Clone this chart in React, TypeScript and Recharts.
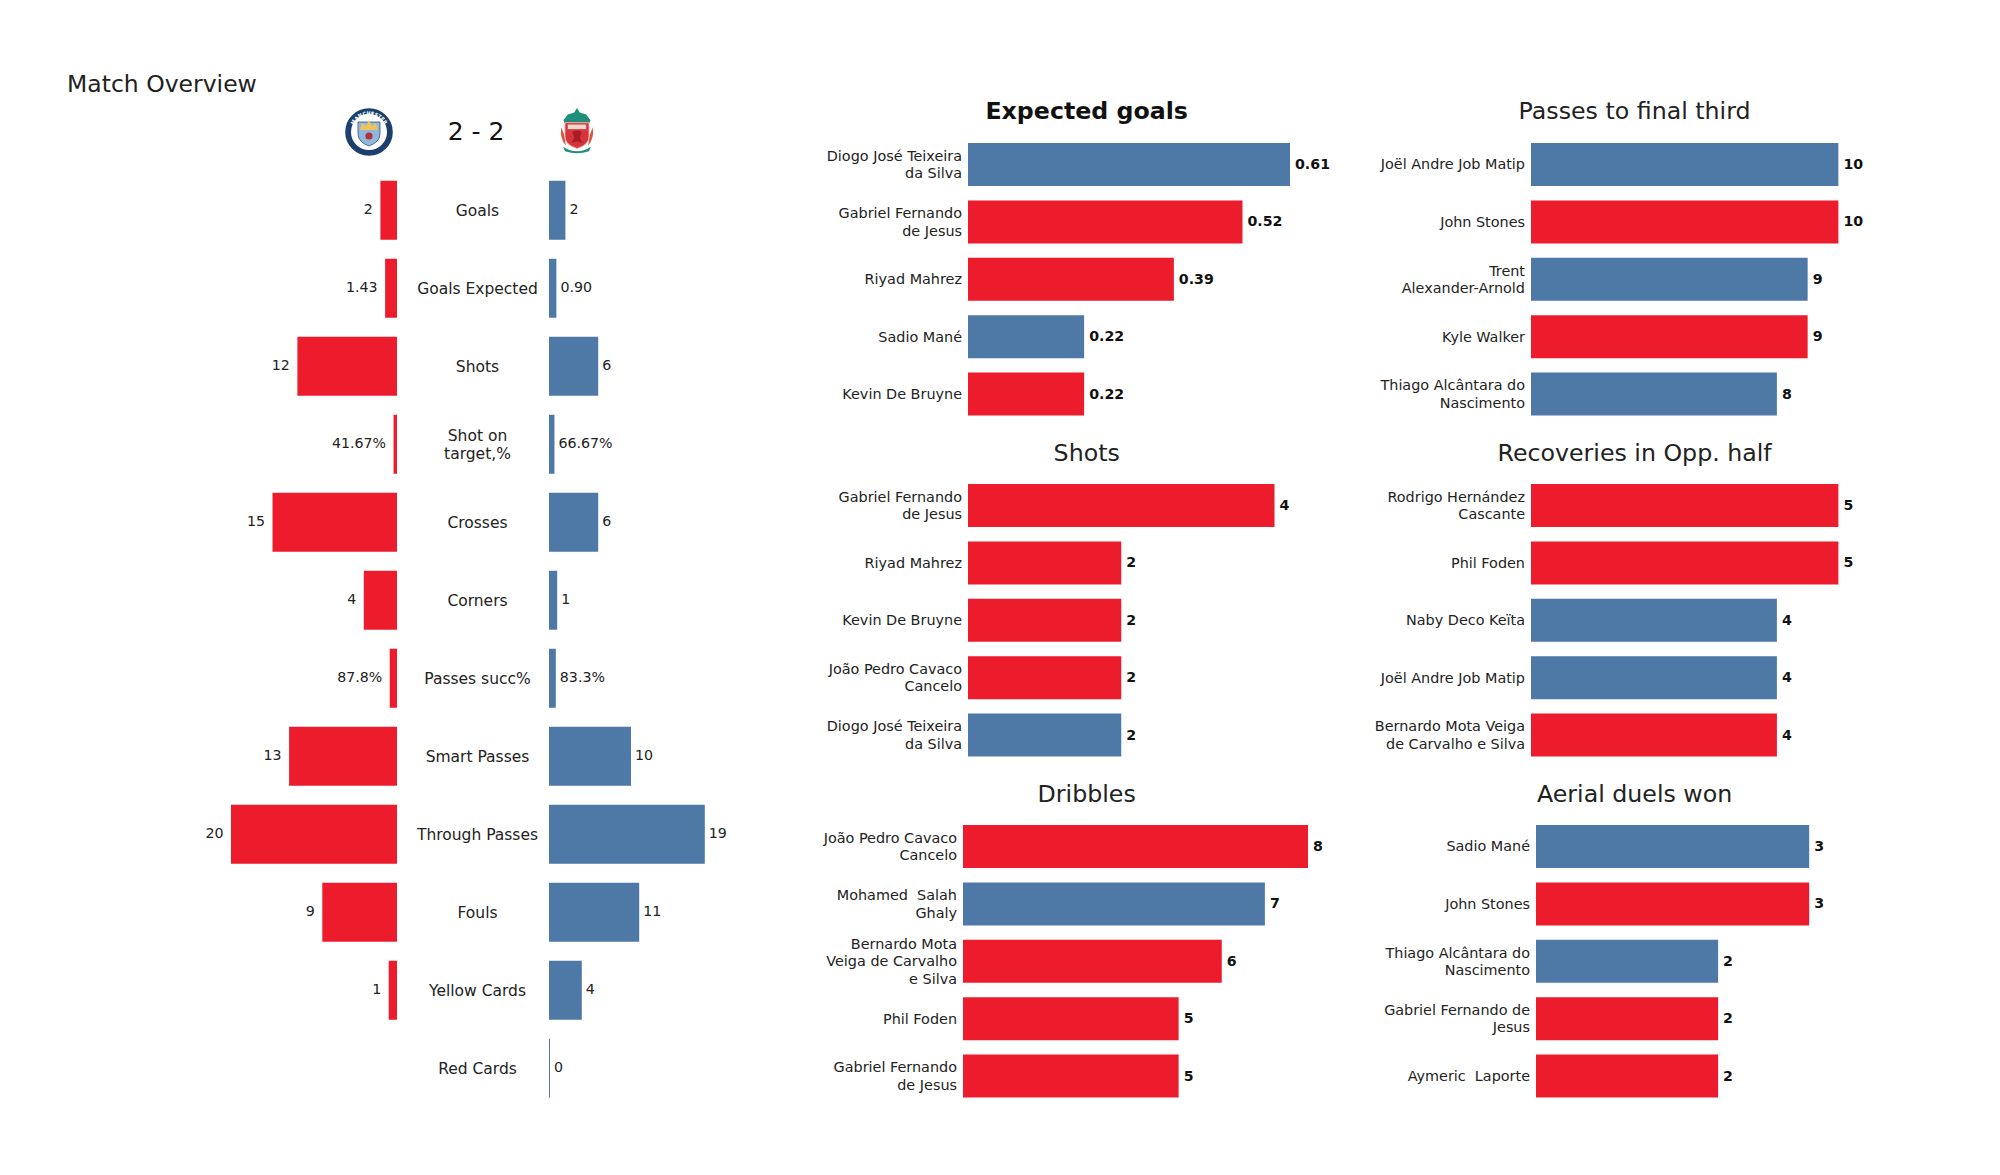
import { BarChart, Bar, XAxis, YAxis, Cell, LabelList } from 'recharts'

const RED = '#ec1c2c'
const BLUE = '#4e79a7'
const FONT = '"DejaVu Sans", sans-serif'
const TEXT = '#222222'

const statNames = ['Goals', 'Goals Expected', 'Shots', 'Shot on\ntarget,%', 'Crosses', 'Corners', 'Passes succ%', 'Smart Passes', 'Through Passes', 'Fouls', 'Yellow Cards', 'Red Cards']
const cityValues = [2, 1.43, 12, 0.4167, 15, 4, 0.878, 13, 20, 9, 1, 0]
const liverpoolValues = [2, 0.9, 6, 0.6667, 6, 1, 0.833, 10, 19, 11, 4, 0]
const cityLabels = ['2', '1.43', '12', '41.67%', '15', '4', '87.8%', '13', '20', '9', '1', '0']
const liverpoolLabels = ['2', '0.90', '6', '66.67%', '6', '1', '83.3%', '10', '19', '11', '4', '0']

const xgNames = ['Diogo José Teixeira\nda Silva', 'Gabriel Fernando\nde Jesus', 'Riyad Mahrez', 'Sadio Mané', 'Kevin De Bruyne']
const xgValues = [0.61, 0.52, 0.39, 0.22, 0.22]
const xgTeams = ['L', 'M', 'M', 'L', 'M']

const shotNames = ['Gabriel Fernando\nde Jesus', 'Riyad Mahrez', 'Kevin De Bruyne', 'João Pedro Cavaco\nCancelo', 'Diogo José Teixeira\nda Silva']
const shotValues = [4, 2, 2, 2, 2]
const shotTeams = ['M', 'M', 'M', 'M', 'L']

const dribbleNames = ['João Pedro Cavaco\nCancelo', 'Mohamed  Salah\nGhaly', 'Bernardo Mota\nVeiga de Carvalho\ne Silva', 'Phil Foden', 'Gabriel Fernando\nde Jesus']
const dribbleValues = [8, 7, 6, 5, 5]
const dribbleTeams = ['M', 'L', 'M', 'M', 'M']

const finalThirdNames = ['Joël Andre Job Matip', 'John Stones', 'Trent\nAlexander-Arnold', 'Kyle Walker', 'Thiago Alcântara do\nNascimento']
const finalThirdValues = [10, 10, 9, 9, 8]
const finalThirdTeams = ['L', 'M', 'L', 'M', 'L']

const recoveryNames = ['Rodrigo Hernández\nCascante', 'Phil Foden', 'Naby Deco Keïta', 'Joël Andre Job Matip', 'Bernardo Mota Veiga\nde Carvalho e Silva']
const recoveryValues = [5, 5, 4, 4, 4]
const recoveryTeams = ['M', 'M', 'L', 'L', 'M']

const aerialNames = ['Sadio Mané', 'John Stones', 'Thiago Alcântara do\nNascimento', 'Gabriel Fernando de\nJesus', 'Aymeric  Laporte']
const aerialValues = [3, 3, 2, 2, 2]
const aerialTeams = ['L', 'M', 'L', 'M', 'M']

const cityRows = statNames.map((name, i) => ({ name, value: cityValues[i], label: cityLabels[i] }))
const liverpoolRows = statNames.map((name, i) => ({ name, value: liverpoolValues[i], label: liverpoolLabels[i] }))

function MultiLineTick({ x, y, payload, dx = 0, dy = 0, anchor = 'end', size = 14.4 }: any) {
  const lines = String(payload.value).split('\n')
  const lineHeight = 17.5
  return (
    <text x={x + dx} y={y} textAnchor={anchor} fontFamily={FONT} fontSize={size} fill={TEXT}>
      {lines.map((line, i) => (
        <tspan key={i} x={x + dx} y={y + dy + (i - (lines.length - 1) / 2) * lineHeight} dy="0.36em" style={{ whiteSpace: 'pre' }}>
          {line}
        </tspan>
      ))}
    </text>
  )
}

function PlayerPanel({ left, top, axisWidth, plotWidth, names, values, teams, max, format }: any) {
  const rows = names.map((name: string, i: number) => ({ name, value: values[i], label: format ? format(values[i]) : String(values[i]) }))
  return (
    <div style={{ position: 'absolute', left: left - axisWidth, top }}>
      <BarChart
        width={axisWidth + plotWidth + 60}
        height={287}
        data={rows}
        layout="vertical"
        margin={{ top: 0, right: 60, bottom: 0, left: 0 }}
        barCategoryGap="12.2%"
      >
        <XAxis type="number" hide domain={[0, max]} />
        <YAxis type="category" dataKey="name" width={axisWidth} interval={0} axisLine={false} tickLine={false} tickSize={0} tickMargin={6} tick={<MultiLineTick dy={-0.4} />} />
        <Bar dataKey="value" isAnimationActive={false}>
          {rows.map((_: any, i: number) => (
            <Cell key={i} fill={teams[i] === 'L' ? BLUE : RED} />
          ))}
          <LabelList dataKey="label" position="right" offset={5} dy={-0.5} fontFamily={FONT} fontSize={14.2} fontWeight={700} fill="#111111" />
        </Bar>
      </BarChart>
    </div>
  )
}

function Title({ cx, y, children, bold }: any) {
  return (
    <div style={{ position: 'absolute', left: cx - 250, top: y - 20, width: 500, height: 40, lineHeight: '40px', textAlign: 'center', fontFamily: FONT, fontSize: 23.7, fontWeight: bold ? 700 : 400, color: bold ? '#111111' : TEXT }}>
      {children}
    </div>
  )
}

function CityCrest() {
  return (
    <svg width={48} height={48} viewBox="0 0 48 48" style={{ position: 'absolute', left: 345, top: 108 }}>
      <defs>
        <path id="city-top" d="M7 24 A17 17 0 0 1 41 24" />
        <path id="city-bottom" d="M15 39 A18 18 0 0 0 33 39" />
      </defs>
      <circle cx={24} cy={24} r={23} fill="#ffffff" stroke="#1c3f6e" strokeWidth={1.6} />
      <circle cx={24} cy={24} r={20.5} fill="none" stroke="#1c3f6e" strokeWidth={5} />
      <text fontFamily={FONT} fontSize={5} fontWeight={700} fill="#ffffff">
        <textPath href="#city-top" startOffset="50%" textAnchor="middle">MANCHESTER</textPath>
      </text>
      <text fontFamily={FONT} fontSize={4.5} fontWeight={700} fill="#ffffff">
        <textPath href="#city-bottom" startOffset="50%" textAnchor="middle">CITY</textPath>
      </text>
      <path d="M13 14 H35 V26 Q35 34 24 38 Q13 34 13 26 Z" fill="#8fb8dc" stroke="#1c3f6e" strokeWidth={0.7} />
      <path d="M15 22 L17 15 L21 18 L24 12 L27 18 L31 15 L33 22 Z" fill="#f0c35a" />
      <circle cx={24} cy={28} r={3.6} fill="#b5303a" />
    </svg>
  )
}

function LiverpoolCrest() {
  return (
    <svg width={38} height={48} viewBox="0 0 40 52" style={{ position: 'absolute', left: 557.5, top: 107 }}>
      <path d="M20 1 L23 6 L30 8 L35 15 L5 15 L10 8 L17 6 Z" fill="#1f8f7c" />
      <rect x={6} y={13} width={28} height={4} fill="#1f8f7c" />
      <path d="M7 17 H33 V32 Q33 41 20 45 Q7 41 7 32 Z" fill="#d8343c" stroke="#e9b0a8" strokeWidth={1} />
      <rect x={10} y={19} width={20} height={5} fill="#f3d8d2" />
      <path d="M15 27 Q20 24 25 27 L23 33 L26 39 L20 37 L14 39 L17 33 Z" fill="#a81d25" />
      <path d="M3 22 Q1 34 8 42 L6 30 Z" fill="#d8553c" />
      <path d="M37 22 Q39 34 32 42 L34 30 Z" fill="#d8553c" />
      <path d="M5 43 Q20 53 35 43 L33 48 Q20 52 7 48 Z" fill="#1f8f7c" />
    </svg>
  )
}

export default function App() {
  return (
    <div style={{ position: 'absolute', left: 0, top: 0, width: 2000, height: 1175, background: '#ffffff', overflow: 'hidden' }}>
      <div style={{ position: 'absolute', left: 67, top: 64, lineHeight: '40px', fontFamily: FONT, fontSize: 23.5, color: TEXT }}>Match Overview</div>
      <CityCrest />
      <div style={{ position: 'absolute', left: 376, top: 112, width: 200, lineHeight: '40px', textAlign: 'center', fontFamily: FONT, fontSize: 25, color: '#111111' }}>2 - 2</div>
      <LiverpoolCrest />

      {/* mirrored overview bars, both sides at nearly the same px per unit */}
      <div style={{ position: 'absolute', left: 171.4, top: 170.5 }}>
        <BarChart width={226} height={936} data={cityRows} layout="vertical" margin={{ top: 0, right: 0, bottom: 0, left: 60 }} barCategoryGap="12.5%">
          <XAxis type="number" hide reversed domain={[0, 20]} />
          <YAxis type="category" dataKey="name" hide />
          <Bar dataKey="value" fill={RED} isAnimationActive={false}>
            {/* width is negative on a reversed axis, so "right" lands on the outer side */}
            <LabelList dataKey="label" position="right" offset={7.5} dy={-1.2} fontFamily={FONT} fontSize={14.2} fill={TEXT} />
          </Bar>
        </BarChart>
      </div>
      <div style={{ position: 'absolute', left: 397.5, top: 170.5 }}>
        <BarChart width={375} height={936} data={liverpoolRows} layout="vertical" margin={{ top: 0, right: 60, bottom: 0, left: 0 }} barCategoryGap="12.5%">
          <XAxis type="number" hide domain={[0, 20]} />
          <YAxis type="category" dataKey="name" width={151} interval={0} axisLine={false} tickLine={false} tickSize={0} tickMargin={0} tick={<MultiLineTick dx={-71.5} dy={0.3} anchor="middle" size={15.5} />} />
          <Bar dataKey="value" fill={BLUE} minPointSize={1} isAnimationActive={false}>
            <LabelList dataKey="label" position="right" offset={4} dy={-1.2} fontFamily={FONT} fontSize={14.2} fill={TEXT} />
          </Bar>
        </BarChart>
      </div>

      <Title cx={1086.7} y={111.3} bold>Expected goals</Title>
      <Title cx={1086.7} y={453.3}>Shots</Title>
      <Title cx={1086.7} y={793.7}>Dribbles</Title>
      <Title cx={1634.6} y={111.3}>Passes to final third</Title>
      <Title cx={1634.6} y={453.3}>Recoveries in Opp. half</Title>
      <Title cx={1634.6} y={793.7}>Aerial duels won</Title>

      <PlayerPanel left={968} top={135.8} axisWidth={180} plotWidth={322} names={xgNames} values={xgValues} teams={xgTeams} max={0.61} format={(v: number) => v.toFixed(2)} />
      <PlayerPanel left={968} top={477.3} axisWidth={180} plotWidth={306.5} names={shotNames} values={shotValues} teams={shotTeams} max={4} />
      <PlayerPanel left={963} top={818} axisWidth={180} plotWidth={345} names={dribbleNames} values={dribbleValues} teams={dribbleTeams} max={8} />
      <PlayerPanel left={1530.6} top={135.8} axisWidth={180} plotWidth={307.4} names={finalThirdNames} values={finalThirdValues} teams={finalThirdTeams} max={10} />
      <PlayerPanel left={1530.6} top={477.3} axisWidth={180} plotWidth={307.4} names={recoveryNames} values={recoveryValues} teams={recoveryTeams} max={5} />
      <PlayerPanel left={1535.5} top={818} axisWidth={180} plotWidth={273.2} names={aerialNames} values={aerialValues} teams={aerialTeams} max={3} />
    </div>
  )
}
